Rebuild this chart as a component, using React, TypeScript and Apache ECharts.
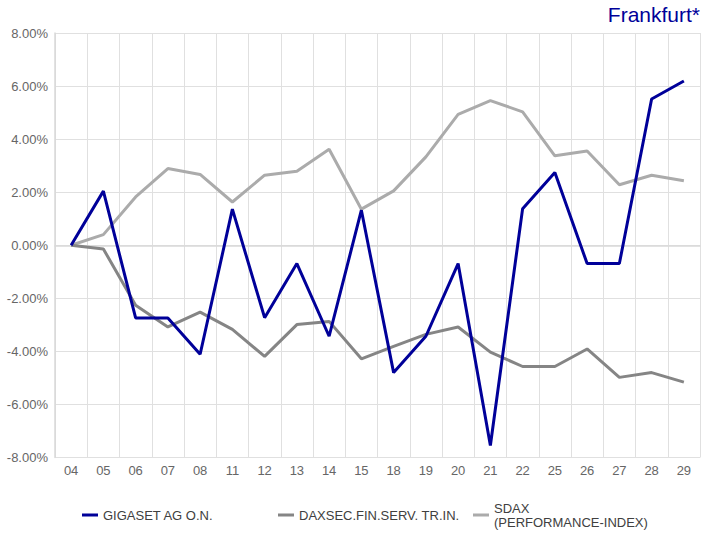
import React, { useEffect, useRef } from "react";
import * as echarts from "echarts";

const categories = ["04", "05", "06", "07", "08", "11", "12", "13", "14", "15", "18", "19", "20", "21", "22", "25", "26", "27", "28", "29"];

const gigaset = [0, 2.04, -2.74, -2.74, -4.11, 1.36, -2.73, -0.69, -3.43, 1.32, -4.8, -3.43, -0.69, -7.55, 1.38, 2.74, -0.69, -0.69, 5.51, 6.19];
const daxsec = [0, -0.14, -2.26, -3.08, -2.52, -3.17, -4.19, -2.99, -2.87, -4.28, -3.81, -3.36, -3.08, -4.03, -4.57, -4.57, -3.91, -4.98, -4.8, -5.16];
const sdax = [0, 0.4, 1.82, 2.89, 2.67, 1.63, 2.64, 2.79, 3.62, 1.36, 2.05, 3.33, 4.93, 5.45, 5.03, 3.37, 3.55, 2.28, 2.64, 2.43];

const seriesNames = ["GIGASET AG O.N.", "DAXSEC.FIN.SERV. TR.IN.", "SDAX\n(PERFORMANCE-INDEX)"];
const seriesColors = ["#000099", "#858585", "#ababab"];
const titleText = "Frankfurt*";

export default function App() {
  const ref = useRef<HTMLDivElement>(null);
  useEffect(() => {
    if (!ref.current) return;
    const chart = echarts.init(ref.current, null, { renderer: "svg" });
    const font = "Liberation Sans, Arial, sans-serif";
    const legendBase = (name: string, left: number, top: number) => ({
      data: [name],
      left,
      top,
      orient: "horizontal" as const,
      icon: "rect",
      itemWidth: 16,
      itemHeight: 3,
      itemGap: 5,
      selectedMode: false,
      textStyle: { color: "#404040", fontSize: 13, fontFamily: font, lineHeight: 14 },
    });
    chart.setOption({
      animation: false,
      backgroundColor: "#ffffff",
      title: {
        text: titleText,
        right: 12,
        top: -1,
        textStyle: { color: "#000099", fontSize: 21, fontWeight: "normal", fontFamily: font },
      },
      legend: [
        legendBase(seriesNames[0], 77, 503),
        legendBase(seriesNames[1], 273, 503),
        legendBase(seriesNames[2], 468, 496),
      ],
      grid: { left: 55, right: 17, top: 33, bottom: 82.5, containLabel: false },
      xAxis: {
        type: "category",
        data: categories,
        boundaryGap: true,
        axisLine: { show: true, lineStyle: { color: "#d9d9d9", width: 1.5 } },
        axisTick: { show: false },
        axisLabel: { color: "#666666", fontSize: 13, fontFamily: font, margin: 6 },
        splitLine: { show: true, lineStyle: { color: "#e0e0e0", width: 1 } },
      },
      yAxis: {
        type: "value",
        min: -8,
        max: 8,
        interval: 2,
        axisLine: { show: true, lineStyle: { color: "#d9d9d9", width: 1.5 } },
        axisTick: { show: false },
        axisLabel: {
          color: "#666666",
          fontSize: 13,
          fontFamily: font,
          margin: 7,
          formatter: (v: number) => `${v.toFixed(2)}%`,
        },
        splitLine: { show: true, lineStyle: { color: "#e0e0e0", width: 1 } },
      },
      series: [
        { name: seriesNames[0], type: "line", data: gigaset, symbol: "none", z: 5, lineStyle: { color: seriesColors[0], width: 3 }, itemStyle: { color: seriesColors[0] } },
        { name: seriesNames[1], type: "line", data: daxsec, symbol: "none", z: 4, lineStyle: { color: seriesColors[1], width: 3 }, itemStyle: { color: seriesColors[1] } },
        { name: seriesNames[2], type: "line", data: sdax, symbol: "none", z: 3, lineStyle: { color: seriesColors[2], width: 3 }, itemStyle: { color: seriesColors[2] } },
      ],
    });
    return () => chart.dispose();
  }, []);
  return <div ref={ref} style={{ width: 717, height: 540, position: "absolute", left: 0, top: 0 }} />;
}
